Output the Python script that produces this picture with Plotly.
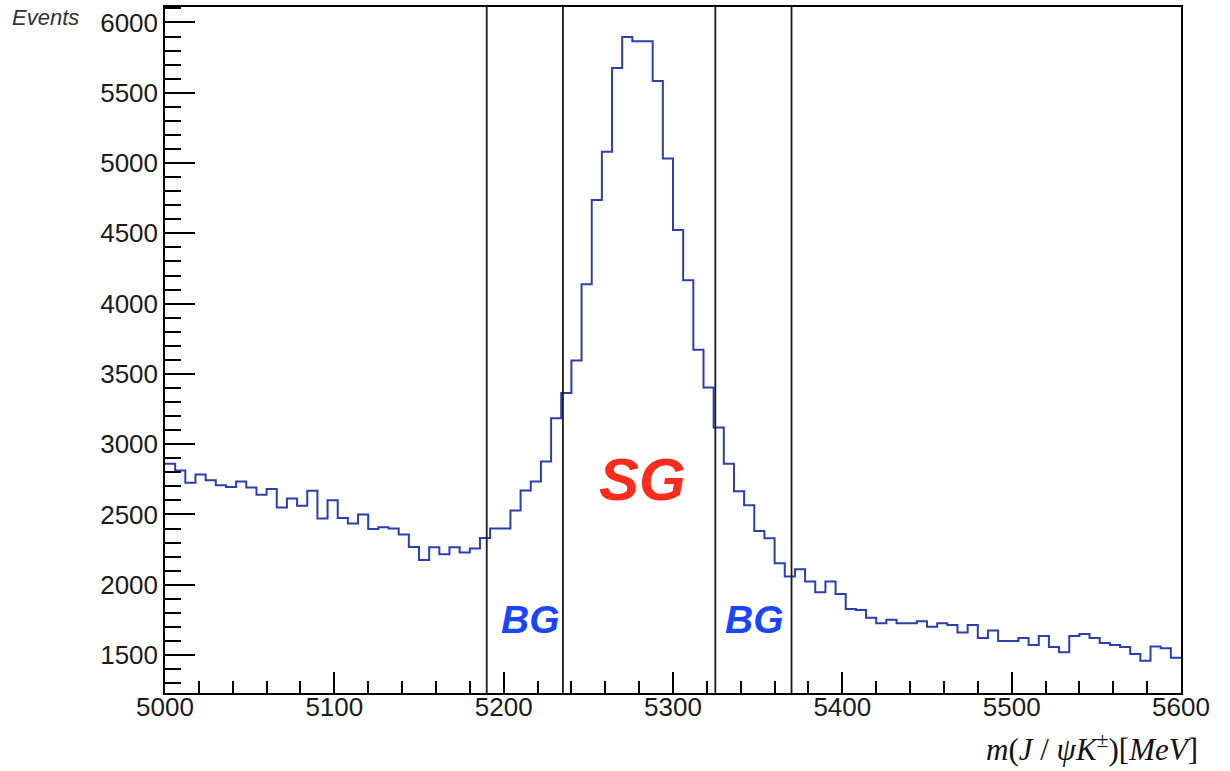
import numpy as np
import plotly.graph_objects as go

# ---- data ----
bin_lo = 5000.0
bin_width = 6.0
counts = [
    2861, 2813, 2726, 2785, 2744, 2707, 2695, 2735, 2692, 2640,
    2681, 2550, 2614, 2562, 2669, 2472, 2602, 2475, 2435, 2499,
    2397, 2409, 2400, 2357, 2269, 2177, 2267, 2217, 2267, 2229,
    2258, 2333, 2401, 2401, 2529, 2671, 2735, 2877, 3184, 3364,
    3596, 4138, 4737, 5080, 5676, 5896, 5867, 5867, 5583, 5032,
    4524, 4166, 3672, 3404, 3119, 2861, 2666, 2565, 2382, 2330,
    2153, 2059, 2110, 2023, 1947, 2023, 1934, 1827, 1820, 1765,
    1727, 1751, 1727, 1727, 1741, 1701, 1727, 1713, 1661, 1713,
    1621, 1675, 1600, 1600, 1621, 1571, 1635, 1557, 1519, 1635,
    1649, 1621, 1585, 1571, 1557, 1507, 1460, 1560, 1548, 1481,
]
cut_lines = [5190, 5235, 5325, 5370]
region_labels = ["BG", "SG", "BG"]
region_label_x = [5216, 5282, 5348]
region_label_y = [1756, 2749, 1756]
x_title = "<i>m</i>(<i>J</i> / <i>ψ</i><i>K</i><sup>±</sup>)[<i>MeV</i>]"
y_title = "Events"

# ---- build step outline ----
n = len(counts)
edges = bin_lo + bin_width * np.arange(n + 1)
xs = list(edges)
ys = list(counts) + [counts[-1]]

fig = go.Figure()
fig.add_trace(go.Scatter(
    x=xs, y=ys, mode="lines", line_shape="hv",
    line=dict(color="#2b3fae", width=2), hoverinfo="skip", showlegend=False,
))

for c in cut_lines:
    fig.add_shape(type="line", xref="x", yref="paper", x0=c, x1=c, y0=0, y1=1,
                  line=dict(color="#1a1a1a", width=1.8))

label_styles = {
    "SG": dict(size=60, color="#fb2c1c"),
    "BG": dict(size=39, color="#1a45ff"),
}
for lab, lx, ly in zip(region_labels, region_label_x, region_label_y):
    st = label_styles[lab]
    fig.add_annotation(x=lx, y=ly, xref="x", yref="y", text=f"<b><i>{lab}</i></b>",
                       showarrow=False, xanchor="center", yanchor="middle",
                       font=dict(family="Liberation Sans", size=st["size"], color=st["color"]))

fig.add_annotation(x=1.0187, y=-0.08, xref="paper", yref="paper", text=x_title,
                   showarrow=False, xanchor="right", yanchor="middle",
                   font=dict(family="Liberation Serif", size=31, color="#111"))
fig.add_annotation(x=-0.1526, y=0.985, xref="paper", yref="paper", text=f"<i>{y_title}</i>",
                   showarrow=False, xanchor="left", yanchor="middle",
                   font=dict(family="Liberation Sans", size=22, color="#333"))

tickfont = dict(family="Liberation Sans", size=26, color="#1a1a1a")
fig.update_xaxes(
    range=[5000, 5600], tick0=5000, dtick=100, ticks="inside", ticklen=21,
    tickwidth=1.5, tickcolor="black", showline=True, mirror=True,
    linecolor="black", linewidth=1.5, showgrid=False, zeroline=False,
    tickfont=tickfont, ticklabelstandoff=-10,
    minor=dict(dtick=20, ticks="inside", ticklen=12, tickwidth=1.5,
               tickcolor="black", showgrid=False),
)
fig.update_yaxes(
    range=[1230, 6110], tick0=0, dtick=500, ticks="inside", ticklen=30,
    tickwidth=1.5, tickcolor="black", showline=True, mirror=True,
    linecolor="black", linewidth=1.5, showgrid=False, zeroline=False,
    tickfont=tickfont,
    minor=dict(dtick=100, ticks="inside", ticklen=16, tickwidth=1.5,
               tickcolor="black", showgrid=False),
)
fig.update_layout(
    width=1230, height=771,
    margin=dict(l=165, r=49, t=5, b=78),
    plot_bgcolor="white", paper_bgcolor="white",
    showlegend=False,
)
fig.write_html("out.html", config={"displayModeBar": False},
               post_script="document.body.style.margin='0';")
